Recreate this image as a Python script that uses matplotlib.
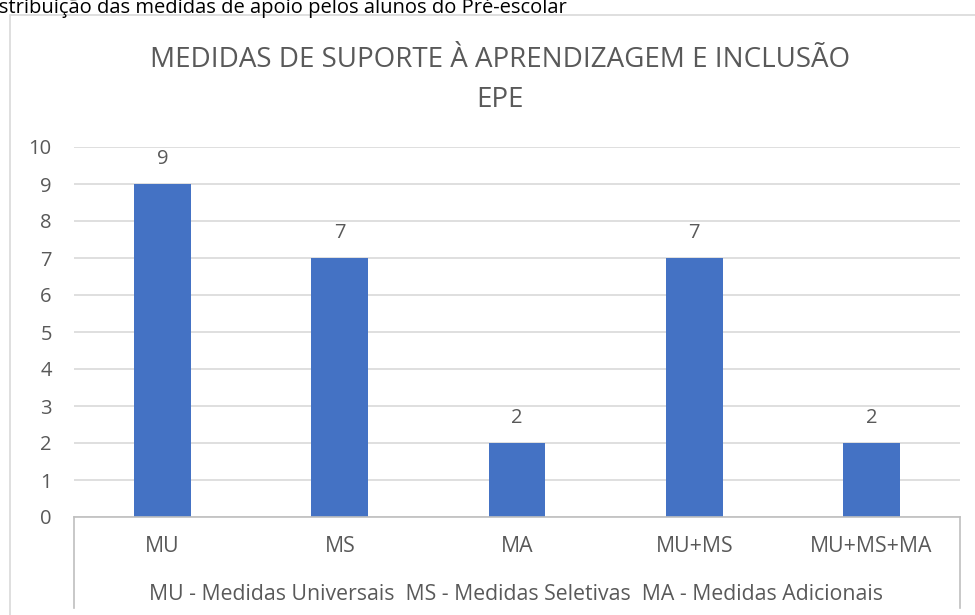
import matplotlib
matplotlib.use("Agg")
import matplotlib.pyplot as plt
from matplotlib.lines import Line2D
from matplotlib.patches import Rectangle

categories = ["MU", "MS", "MA", "MU+MS", "MU+MS+MA"]
values = [9, 7, 2, 7, 2]
yticks = [0, 1, 2, 3, 4, 5, 6, 7, 8, 9, 10]
title_lines = ["MEDIDAS DE SUPORTE À APRENDIZAGEM E INCLUSÃO", "EPE"]
axis_title = "MU - Medidas Universais  MS - Medidas Seletivas  MA - Medidas Adicionais"
caption = "Distribuição das medidas de apoio pelos alunos do Pré-escolar"

plt.rcParams['font.family'] = ['Open Sans', 'DejaVu Sans']
W, H = 975, 615
fig = plt.figure(figsize=(W / 100, H / 100), dpi=100)
gray = "#595959"
fs = 14.5
fsx = 15.3

def fx(px):
    return px / W

def fy(py):
    return 1 - py / H

# outer chart border
fig.patches.append(Rectangle((fx(10), fy(640)), fx(1000), fy(15) - fy(640),
                             transform=fig.transFigure, fill=False,
                             edgecolor="#d9d9d9", linewidth=1.2))

left, right, top, bottom = 74, 960, 147, 517
ax = fig.add_axes([fx(left), fy(bottom), fx(right - left), fy(top) - fy(bottom)])
x = range(len(categories))
bars = ax.bar(x, values, width=0.32, color="#4472c4", zorder=3)
ax.set_xlim(-0.5, len(categories) - 0.5)
ax.set_ylim(0, 10)
ax.set_yticks(yticks)
ax.yaxis.grid(True, color="#d9d9d9", linewidth=1.2, zorder=0)
for s in ax.spines.values():
    s.set_visible(False)
ax.tick_params(axis="y", length=0, pad=16, labelsize=fs, labelcolor=gray)
ax.tick_params(axis="x", length=0, pad=14, labelsize=fsx, labelcolor=gray)
ax.set_xticks(list(x))
ax.set_xticklabels(categories)
for b, v in zip(bars, values):
    ax.annotate(str(v), (b.get_x() + b.get_width() / 2, v), xytext=(0, 14.5),
                textcoords="offset points", ha="center", va="baseline",
                fontsize=fs, color=gray)

# category box lines
lc = "#bfbfbf"
fig.add_artist(Line2D([fx(left), fx(right)], [fy(bottom), fy(bottom)], color=lc, lw=1.2))
fig.add_artist(Line2D([fx(left), fx(left)], [fy(bottom), fy(608)], color=lc, lw=1.2))
fig.add_artist(Line2D([fx(right), fx(right)], [fy(bottom), fy(608)], color=lc, lw=1.2))

fig.text(fx(516), fy(600), axis_title, ha="center", va="baseline",
         fontsize=fsx, color=gray)
fig.text(fx(500), fy(67), title_lines[0], ha="center", va="baseline", fontsize=20,
         color=gray)
fig.text(fx(500), fy(107), title_lines[1], ha="center", va="baseline", fontsize=20,
         color=gray)
fig.text(fx(-21), fy(13), caption, ha="left", va="baseline", fontsize=14.5, color="black")

fig.savefig("out.png", dpi=100)
